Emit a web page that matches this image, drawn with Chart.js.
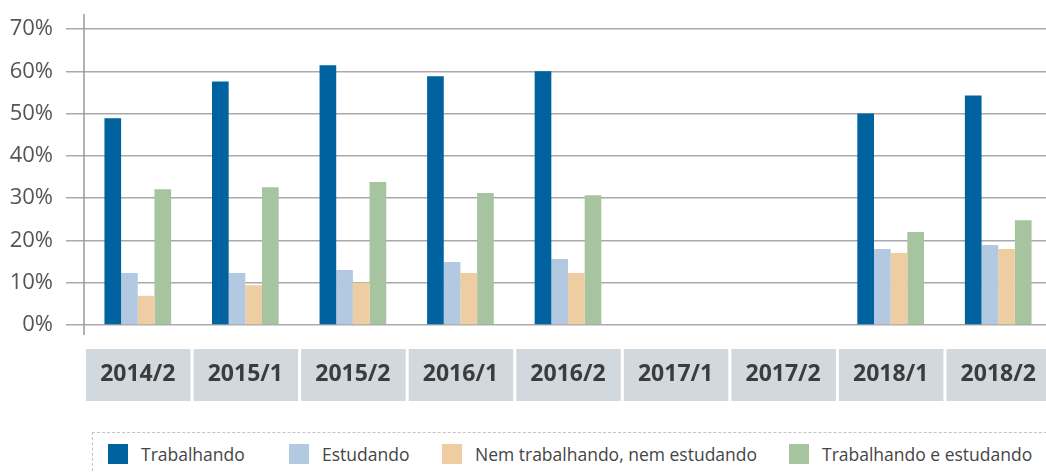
<!DOCTYPE html>
<html>
<head>
<meta charset="utf-8">
<script src="https://cdn.jsdelivr.net/npm/chart.js@4.4.1/dist/chart.umd.min.js"></script>
<style>
    body { margin: 0; background: #fff; overflow: hidden; font-family: "Open Sans", sans-serif; }
    .wrap { position: relative; width: 1046px; height: 473px; overflow: hidden; }
    #bolsistas { position: absolute; left: 0; top: 0; }
    .legend {
        position: absolute; left: 92px; top: 432px; width: 1000px; height: 60px;
        border-top: 1px dashed #c4c4c4; border-left: 1px dashed #c4c4c4;
        display: flex; align-items: flex-start; padding: 11px 0 0 15px; box-sizing: border-box;
    }
    .legend-item { display: flex; align-items: center; flex-shrink: 0; white-space: nowrap; }
    .legend-item:nth-child(1) { width: 181px; }
    .legend-item:nth-child(2) { width: 153px; }
    .legend-item:nth-child(3) { width: 347px; }
    .legend-item span.sw { width: 20px; height: 20px; display: inline-block; }
    .legend-item span.tx { margin-left: 13px; font-size: 17.5px; color: #454545; line-height: 20px; }
</style>
</head>
<body>
<div class="wrap">
    <canvas id="bolsistas" width="1052" height="420"></canvas>
    <div class="legend" id="legend"></div>
</div>
<script>
    "use strict";

    // Data
    var semestres = ["2014/2", "2015/1", "2015/2", "2016/1", "2016/2", "2017/1", "2017/2", "2018/1", "2018/2"];
    var trabalhando = [48.9, 57.6, 61.4, 58.8, 60.0, null, null, 50.0, 54.3];
    var estudando = [12.3, 12.3, 13.0, 14.9, 15.6, null, null, 18.0, 18.9];
    var nemNem = [6.9, 9.4, 10.0, 12.3, 12.3, null, null, 17.0, 18.0];
    var trabEstud = [32.1, 32.6, 33.8, 31.2, 30.7, null, null, 22.0, 24.8];
    var yTicks = [0, 10, 20, 30, 40, 50, 60, 70];

    var gridColor = "#a9a9a9";

    // Grey boxes behind the semester labels + long y axis line
    var axisDecor = {
        id: "axisDecor",
        beforeDraw: function (chart) {
            var ctx = chart.ctx;
            var x = chart.scales.x;
            var area = chart.chartArea;
            var w = x.width / semestres.length;
            ctx.save();
            ctx.fillStyle = "#d1d9de";
            for (var i = 0; i < semestres.length; i++) {
                var left = x.getPixelForValue(i) - w / 2;
                ctx.fillRect(left + 2, area.bottom + 24, w - 3, 52);
            }
            ctx.restore();
        },
        afterDraw: function (chart) {
            var ctx = chart.ctx;
            var area = chart.chartArea;
            ctx.save();
            ctx.strokeStyle = "#999";
            ctx.lineWidth = 1.5;
            ctx.beginPath();
            ctx.moveTo(area.left, area.top - 15);
            ctx.lineTo(area.left, area.bottom + 10);
            ctx.stroke();
            ctx.restore();
        }
    };

    var ctx1 = document.getElementById("bolsistas").getContext("2d");
    var myChart1 = new Chart(ctx1, {
        type: "bar",
        data: {
            labels: semestres,
            datasets: [{
                    label: "Trabalhando",
                    data: trabalhando,
                    backgroundColor: "#00639f"
                },
                {
                    label: "Estudando",
                    data: estudando,
                    backgroundColor: "#b3c9e1"
                },
                {
                    label: "Nem trabalhando, nem estudando",
                    data: nemNem,
                    backgroundColor: "#efcda3"
                },
                {
                    label: "Trabalhando e estudando",
                    data: trabEstud,
                    backgroundColor: "#a5c49f"
                }
            ]
        },
        options: {
            responsive: false,
            animation: false,
            devicePixelRatio: 1,
            layout: { padding: { top: 29, right: 0, bottom: 0, left: 0 } },
            datasets: {
                bar: { categoryPercentage: 0.62, barPercentage: 1.0 }
            },
            plugins: {
                legend: { display: false },
                tooltip: { enabled: false }
            },
            scales: {
                x: {
                    // grid hidden, but tickLength still pushes the labels down
                    grid: { display: false, drawTicks: true, tickLength: 36 },
                    border: { display: false },
                    ticks: {
                        padding: 0,
                        color: "#3c3c3c",
                        font: { family: "Open Sans", size: 23, weight: "bold" }
                    },
                    afterFit: function (scale) { scale.height = 95; }
                },
                y: {
                    min: 0,
                    max: 70,
                    afterBuildTicks: function (scale) {
                        scale.ticks = yTicks.map(function (v) { return { value: v }; });
                    },
                    grid: { color: gridColor, lineWidth: 1.5, tickLength: 18, tickColor: gridColor },
                    border: { display: false },
                    ticks: {
                        padding: 13,
                        color: "#555",
                        font: { family: "Open Sans", size: 22 },
                        callback: function (v) { return v + "%"; }
                    },
                    afterFit: function (scale) { scale.width = 84; }
                }
            }
        },
        plugins: [axisDecor]
    });

    // HTML legend from the chart's own legend items
    function buildLegend(chart) {
        var items = Chart.defaults.plugins.legend.labels.generateLabels(chart);
        var html = "";
        items.forEach(function (it) {
            html += '<div class="legend-item"><span class="sw" style="background:' + it.fillStyle + '"></span>' +
                '<span class="tx">' + it.text + '</span></div>';
        });
        document.getElementById("legend").innerHTML = html;
    }
    buildLegend(myChart1);
</script>
</body>
</html>
